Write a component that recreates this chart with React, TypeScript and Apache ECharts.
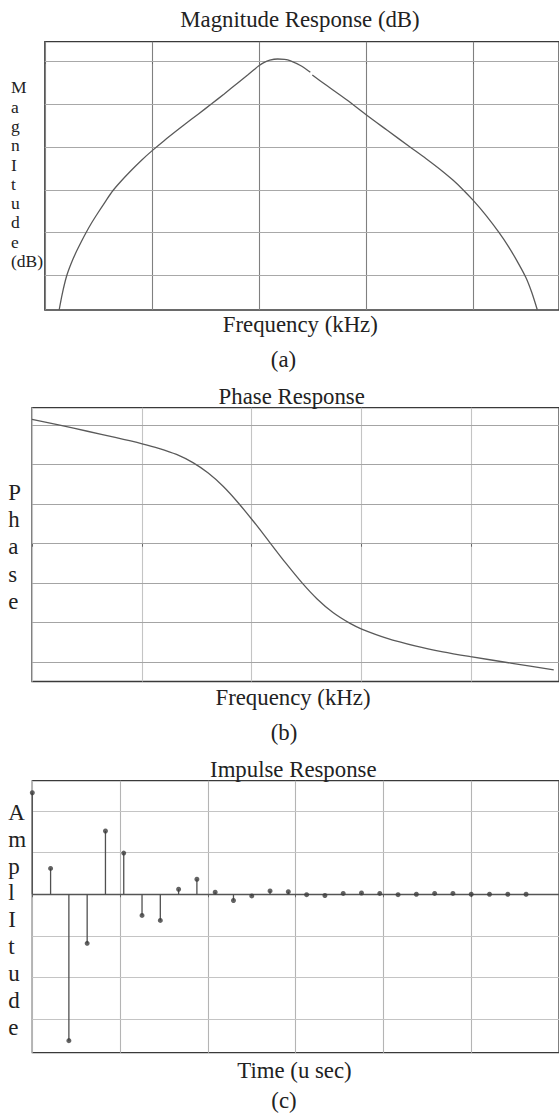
import React, { useEffect, useRef } from "react";
import * as echarts from "echarts";

// (a) Magnitude response
const magFreqKHz = [0.67, 0.818, 1.012, 1.211, 1.442, 1.673, 1.904, 2.181, 2.491, 2.828, 3.165, 3.567, 4.03, 4.492, 4.986, 5.555, 6.479, 7.172, 7.787, 8.373, 9.02, 9.482, 9.76, 9.991, 10.222, 10.499, 10.869, 11.192, 11.47, 11.932, 12.394, 12.44, 12.486, 13.179, 14.104, 14.982, 15.998, 17.029, 17.8, 18.572, 19.048, 19.497, 19.986, 20.573, 21.188, 21.65, 22.052, 22.454, 22.722, 22.99];
const magDb: (number | null)[] = [-58.0, -54.16, -50.2, -47.4, -44.72, -42.39, -40.18, -37.74, -35.29, -32.73, -30.28, -27.95, -25.51, -23.22, -20.99, -18.61, -14.98, -12.32, -9.97, -7.66, -5.05, -3.19, -2.05, -1.12, -0.37, 0.19, 0.47, 0.4, 0.05, -1.05, -2.63, null, -3.26, -5.78, -9.08, -12.46, -16.19, -19.96, -22.76, -25.72, -27.74, -29.86, -32.42, -35.83, -39.86, -43.28, -46.68, -50.43, -53.81, -58.0];
const magGridDb = [0, -10, -20, -30, -40, -50];

// (b) Phase response
const phaseFreqKHz = [0, 1.262, 2.525, 3.787, 5.018, 5.771, 6.582, 7.349, 8.025, 8.702, 9.378, 10.099, 10.807, 11.542, 12.309, 12.985, 13.706, 14.486, 15.014, 16.141, 17.493, 18.711, 19.973, 21.867, 23.76];
const phaseRad = [1.575, 1.5, 1.424, 1.346, 1.265, 1.208, 1.13, 1.023, 0.894, 0.727, 0.522, 0.278, 0.024, -0.24, -0.499, -0.699, -0.871, -1.009, -1.08, -1.194, -1.296, -1.368, -1.429, -1.514, -1.596];
const phaseGrid = [1.5, 1, 0.5, 0, -0.5, -1, -1.5];

// (c) Impulse response
const samplePeriodUs = 1000 / 48;
const impulseAmp = [0.244, 0.062, -0.352, -0.118, 0.152, 0.099, -0.051, -0.063, 0.012, 0.036, 0.005, -0.015, -0.004, 0.008, 0.006, -0.001, -0.003, 0.002, 0.003, 0.002, -0.001, 0.0, 0.002, 0.002, 0.0, 0.0, 0.0, 0.0];
const ampGrid = [0.2, 0.1, -0.1, -0.2, -0.3];

const FONT = "Liberation Serif";
const FS = 22.8;

export default function App() {
  const ref = useRef<HTMLDivElement>(null);
  useEffect(() => {
    if (!ref.current) return;
    const chart = echarts.init(ref.current, undefined, { renderer: "svg" });

    const gridBox = (left: number, top: number, width: number, height: number) => ({
      left, top, width, height, show: true, borderColor: "#3a3a3a", borderWidth: 1.3, backgroundColor: "transparent",
    });

    const hideY = (gridIndex: number, min: number, max: number) => ({
      type: "value", gridIndex, min, max,
      axisLabel: { show: false }, axisTick: { show: false }, axisLine: { show: false }, splitLine: { show: false },
    });

    const xAx = (gridIndex: number, max: number, interval: number, color: string) => ({
      type: "value", gridIndex, min: 0, max, interval,
      axisLabel: { show: false },
      axisTick: { show: true, inside: false, length: 3, lineStyle: { color: "#666" } },
      axisLine: { show: false },
      splitLine: { show: true, lineStyle: { color, width: 1.1 } },
    });

    const gridLines = (xi: number, vals: number[], color: string, width = 1.2) => ({
      type: "line", xAxisIndex: xi, yAxisIndex: xi, data: [[0, vals[0]]], showSymbol: false, silent: true,
      lineStyle: { opacity: 0 }, z: 1,
      markLine: {
        silent: true, symbol: ["none", "none"], label: { show: false },
        lineStyle: { color, width, type: "solid" },
        data: vals.map((v) => ({ yAxis: v })),
      },
    });

    const text = (t: string, x: number, baseline: number, fs = FS, align = "center") => ({
      type: "text", x, y: baseline - 0.3375 * fs,
      style: { text: t, fontFamily: FONT, fontSize: fs, fill: "#222", align, verticalAlign: "middle" },
    });

    const stack = (t: string, x: number, firstBaseline: number, fs: number, lh: number) => ({
      type: "text", x, y: firstBaseline - 0.3375 * fs - lh / 2,
      style: { text: t, fontFamily: FONT, fontSize: fs, fill: "#222", align: "left", verticalAlign: "top", lineHeight: lh },
    });

    const option: any = {
      animation: false,
      backgroundColor: "#fff",
      grid: [
        gridBox(44.8, 41.7, 24 * 21.64, 268.3),
        gridBox(32, 407.7, 24 * 22.18, 273.8),
        gridBox(32.3, 780.7, 546, 272),
      ],
      xAxis: [
        xAx(0, 24, 5, "#808080"),
        xAx(1, 24, 5, "#c4c4c4"),
        xAx(2, 600, 100, "#b4b4b4"),
      ],
      yAxis: [hideY(0, -58, 4.5), hideY(1, -1.744, 1.722), hideY(2, -0.381, 0.273)],
      series: [
        gridLines(0, magGridDb, "#a8a8a8"),
        gridLines(1, phaseGrid, "#a4a4a4"),
        gridLines(2, ampGrid, "#c4c4c4"),
        {
          type: "line", xAxisIndex: 2, yAxisIndex: 2, data: [[0, 0]], showSymbol: false, silent: true,
          lineStyle: { opacity: 0 }, z: 2,
          markLine: { silent: true, symbol: ["none", "none"], label: { show: false }, lineStyle: { color: "#555", width: 1.4, type: "solid" }, data: [{ yAxis: 0 }] },
        },
        {
          type: "line", xAxisIndex: 0, yAxisIndex: 0, z: 5,
          data: magFreqKHz.map((f, i) => [f, magDb[i] === null ? "-" : magDb[i]]),
          smooth: 0.3, showSymbol: false, connectNulls: false,
          lineStyle: { color: "#5a5a5a", width: 1.3 },
        },
        {
          type: "line", xAxisIndex: 1, yAxisIndex: 1, z: 5,
          data: phaseFreqKHz.map((f, i) => [f, phaseRad[i]]),
          smooth: 0.3, showSymbol: false,
          lineStyle: { color: "#5a5a5a", width: 1.3 },
        },
        {
          type: "custom", xAxisIndex: 2, yAxisIndex: 2, z: 5,
          data: impulseAmp.map((a, n) => [n * samplePeriodUs, a]),
          encode: { x: 0, y: 1 },
          renderItem: (_p: any, api: any) => {
            const x = api.value(0);
            const y = api.value(1);
            const p0 = api.coord([x, 0]);
            const p1 = api.coord([x, y]);
            return { type: "line", shape: { x1: p0[0], y1: p0[1], x2: p1[0], y2: p1[1] }, style: { stroke: "#505050", lineWidth: 1.3 } };
          },
        },
        {
          type: "scatter", xAxisIndex: 2, yAxisIndex: 2, z: 6,
          data: impulseAmp.map((a, n) => [n * samplePeriodUs, a]),
          symbol: "circle", symbolSize: 5, itemStyle: { color: "#3c3c3c" },
        },
      ],
      graphic: [
        text("Magnitude Response (dB)", 300, 27.5),
        text("Frequency (kHz)", 300.3, 332.3),
        text("(a)", 283.5, 367),
        stack("M\na\ng\nn\nI\nt\nu\nd\ne\n(dB)", 11, 93.3, 17.5, 19.3),
        text("Phase Response", 291.7, 404.3),
        text("Frequency (kHz)", 293, 705),
        text("(b)", 284, 740),
        stack("P\nh\na\ns\ne", 8.3, 500, FS, 27.3),
        text("Impulse Response", 293.3, 776.7),
        text("Time (u sec)", 294.5, 1078.3),
        text("(c)", 284, 1108.5),
        stack("A\nm\np\nl\nI\nt\nu\nd\ne", 8.3, 820, 23, 26.9),
      ],
    };
    chart.setOption(option);
    return () => chart.dispose();
  }, []);
  return (
    <div
      ref={ref}
      style={{ position: "absolute", left: 0, top: 0, width: 559, height: 1115, overflow: "hidden", background: "#fff" }}
    />
  );
}
